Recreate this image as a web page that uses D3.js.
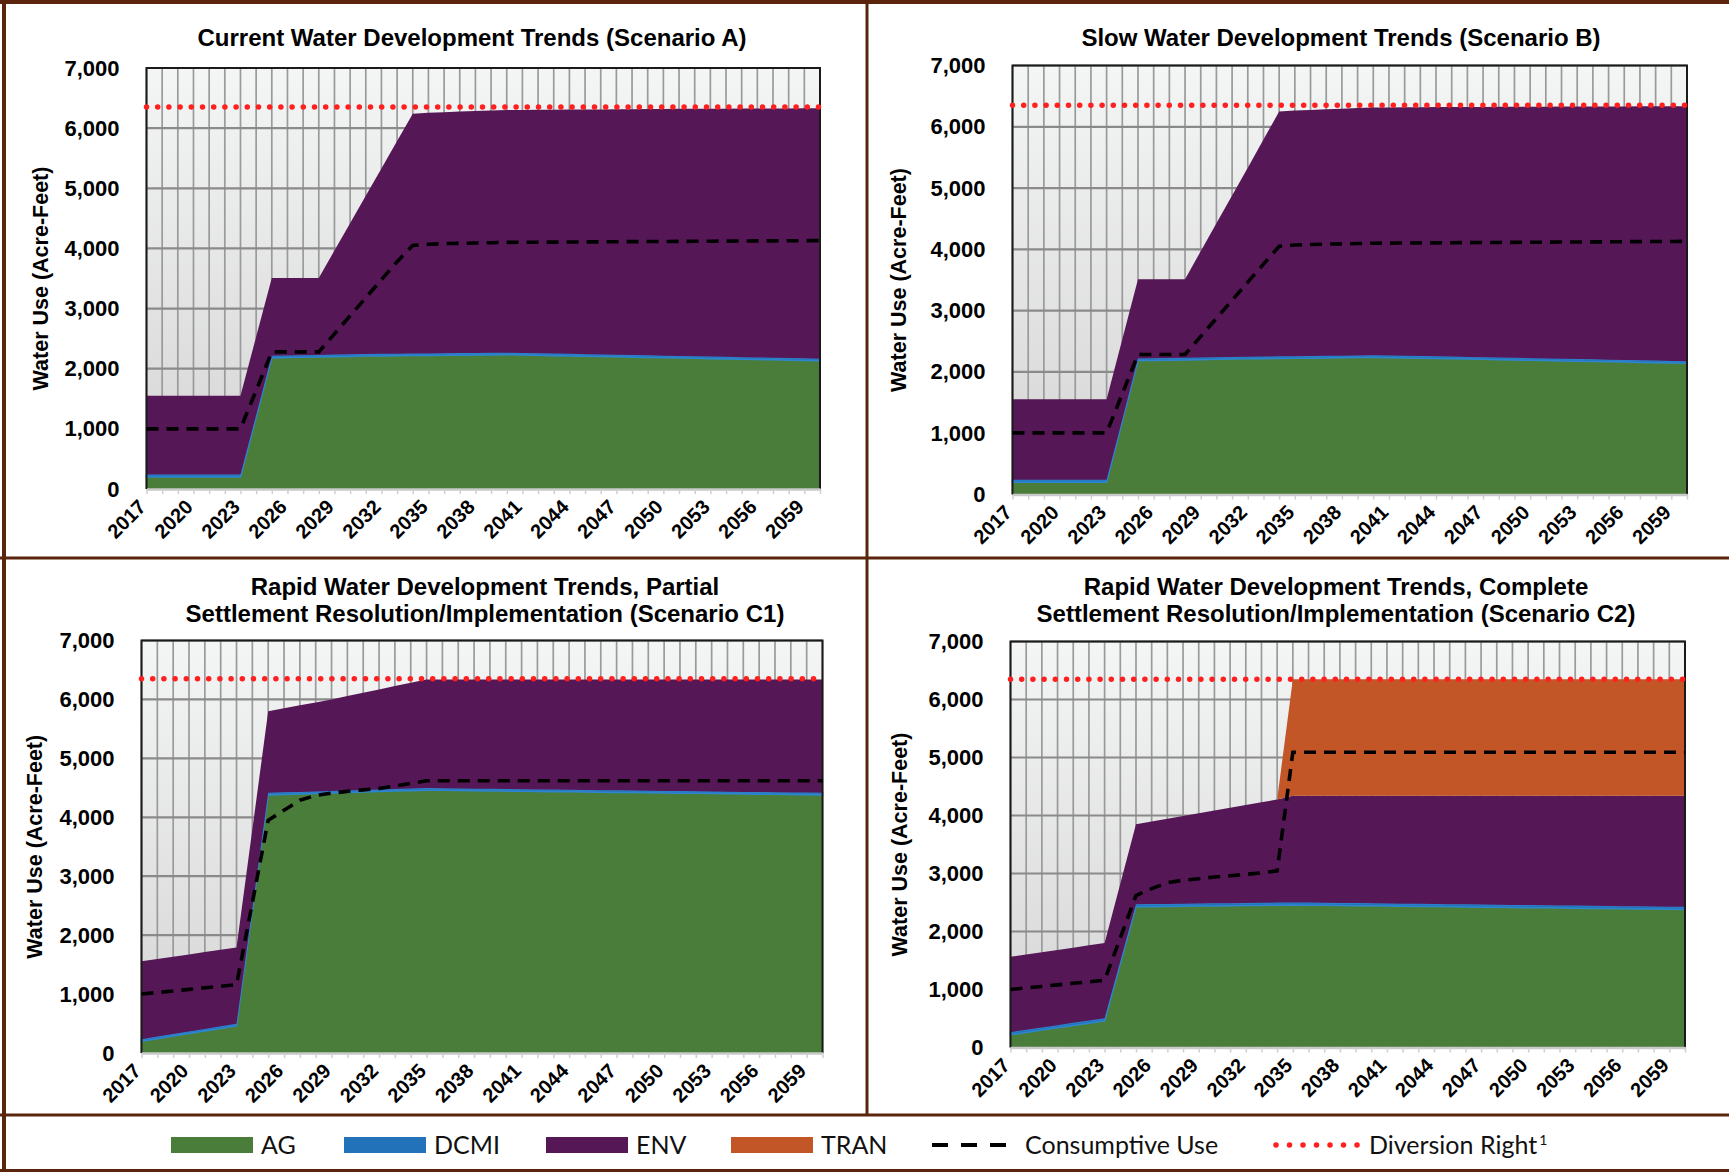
<!DOCTYPE html>
<meta charset="utf-8">
<script src="https://d3js.org/d3.v7.min.js"></script>
<style>
  body { margin: 0; background: #fff; }
  svg text { font-family: "Liberation Sans", Arial, sans-serif; }
</style>
<div id="chart"></div>
<script>
// categories (one per year) and the labelled years
var years = [2017,2018,2019,2020,2021,2022,2023,2024,2025,2026,2027,2028,2029,2030,2031,2032,2033,2034,2035,2036,2037,2038,
             2039,2040,2041,2042,2043,2044,2045,2046,2047,2048,2049,2050,2051,2052,2053,2054,2055,2056,2057,2058,2059,2060];
var tickYears = [2017,2020,2023,2026,2029,2032,2035,2038,2041,2044,2047,2050,2053,2056,2059];
var yTicks = [0,1000,2000,3000,4000,5000,6000,7000];

// Scenario A
var agA   = [200,200,200,200,200,200,200,1190,2180,2185,2190,2195,2200,2205,2210,2212,2215,2218,2220,2222,2225,2228,2230,2232,
             2227,2222,2217,2212,2207,2202,2197,2192,2187,2182,2177,2172,2167,2162,2157,2152,2147,2142,2137,2132];
var dcmiA = [40,40,40,40,40,40,40,35,35,35,35,35,35,35,35,35,35,35,35,35,35,35,35,35,
             35,35,35,35,35,35,35,35,35,35,35,35,35,35,35,35,35,35,35,35];
var envA  = [1310,1310,1310,1310,1310,1310,1310,1305,1295,1290,1285,1280,1730,2180,2630,3083,3535,3987,4000,4008,4015,4022,4030,4033,
             4040,4047,4054,4061,4068,4075,4082,4089,4096,4103,4109,4115,4121,4127,4133,4139,4145,4151,4157,4163];
var cuA   = [1000,1000,1000,1000,1000,1000,1000,1640,2280,2280,2280,2280,2580,2880,3180,3480,3780,4050,4070,4080,4085,4090,4095,4100,
             4102,4103,4105,4106,4108,4110,4111,4113,4114,4116,4117,4119,4120,4122,4123,4125,4126,4128,4129,4130];
var drA = 6350;

// Scenario B
var agB   = [200,200,200,200,200,200,200,1190,2185,2188,2192,2196,2200,2205,2210,2213,2216,2219,2222,2225,2228,2231,2234,2236,
             2232,2228,2224,2220,2215,2210,2205,2200,2195,2190,2185,2180,2175,2170,2165,2160,2155,2150,2145,2140];
var dcmiB = [40,40,40,40,40,40,40,35,35,35,35,35,35,35,35,35,35,35,35,35,35,35,35,35,
             35,35,35,35,35,35,35,35,35,35,35,35,35,35,35,35,35,35,35,35];
var envB  = [1315,1315,1315,1315,1315,1315,1315,1310,1292,1289,1285,1281,1735,2185,2635,3085,3540,3995,4008,4015,4022,4029,4036,4042,
             4048,4054,4060,4066,4072,4078,4084,4090,4096,4102,4108,4114,4120,4126,4132,4138,4144,4150,4156,4162];
var cuB   = [1005,1005,1005,1005,1005,1005,1005,1645,2285,2285,2285,2285,2580,2875,3170,3465,3760,4050,4070,4080,4085,4090,4095,4100,
             4102,4103,4105,4106,4108,4110,4111,4113,4114,4116,4117,4119,4120,4122,4123,4125,4126,4128,4129,4130];
var drB = 6350;

// Scenario C1
var agC1   = [200,243,287,330,373,417,460,2420,4380,4388,4396,4404,4412,4420,4428,4436,4444,4452,4460,
              4457,4454,4451,4448,4444,4441,4438,4435,4432,4428,4425,4422,4419,4416,4412,4409,4406,4403,4400,4396,4393,4390,4387,4384,4380];
var dcmiC1 = [35,35,35,35,35,35,35,35,35,35,35,35,35,35,35,35,35,35,35,35,35,35,35,35,
              35,35,35,35,35,35,35,35,35,35,35,35,35,35,35,35,35,35,35,35];
var envC1  = [1322,1318,1313,1308,1304,1299,1295,1340,1385,1427,1469,1511,1553,1602,1650,1699,1748,1796,1845,
              1848,1851,1854,1857,1861,1864,1867,1870,1873,1877,1880,1883,1886,1889,1893,1896,1899,1902,1905,1909,1912,1915,1918,1921,1925];
var cuC1   = [1000,1027,1053,1080,1107,1133,1160,2550,3950,4120,4290,4370,4410,4440,4465,4490,4530,4575,4620,
              4620,4620,4620,4620,4620,4620,4620,4620,4620,4620,4620,4620,4620,4620,4620,4620,4620,4620,4620,4620,4620,4620,4620,4620,4620];
var drC1 = 6350;

// Scenario C2
var agC2   = [220,260,300,340,380,420,460,1443,2425,2428,2431,2434,2438,2441,2444,2447,2450,2454,2457,
              2454,2451,2448,2445,2442,2439,2435,2432,2429,2426,2423,2420,2417,2414,2411,2408,2405,2402,2398,2395,2392,2389,2386,2383,2380];
var dcmiC2 = [45,45,45,45,45,45,45,45,45,45,45,45,45,45,45,45,45,45,45,45,45,45,45,45,
              45,45,45,45,45,45,45,45,45,45,45,45,45,45,45,45,45,45,45,45];
var envC2  = [1298,1298,1297,1297,1296,1296,1295,1336,1378,1423,1467,1512,1555,1600,1644,1689,1733,1777,1838,
              1841,1844,1847,1850,1853,1856,1860,1863,1866,1869,1872,1875,1878,1881,1884,1887,1890,1893,1897,1900,1903,1906,1909,1912,1915];
var tranC2 = [0,0,0,0,0,0,0,0,0,0,0,0,0,0,0,0,0,0,2010,
              2010,2010,2010,2010,2010,2010,2010,2010,2010,2010,2010,2010,2010,2010,2010,2010,2010,2010,2010,2010,2010,2010,2010,2010,2010];
var cuC2   = [1000,1027,1053,1080,1107,1133,1160,1890,2620,2740,2840,2885,2910,2940,2960,2985,3010,3045,5090,
              5090,5090,5090,5090,5090,5090,5090,5090,5090,5090,5090,5090,5090,5090,5090,5090,5090,5090,5090,5090,5090,5090,5090,5090,5090];
var drC2 = 6350;

var colors = {AG: "#4a7d3a", DCMI: "#2272ba", ENV: "#551756", TRAN: "#c25627"};

var panels = [
  {title: ["Current Water Development Trends (Scenario A)"], ag: agA, dcmi: dcmiA, env: envA, tran: null, cu: cuA, dr: drA,
   x0: 146.5, x1: 820, y0: 68, y1: 489, tx: 472, ty: 46, lx: 40},
  {title: ["Slow Water Development Trends (Scenario B)"], ag: agB, dcmi: dcmiB, env: envB, tran: null, cu: cuB, dr: drB,
   x0: 1012.5, x1: 1687, y0: 65.5, y1: 494.5, tx: 1341, ty: 46, lx: 898},
  {title: ["Rapid Water Development Trends, Partial", "Settlement Resolution/Implementation (Scenario C1)"],
   ag: agC1, dcmi: dcmiC1, env: envC1, tran: null, cu: cuC1, dr: drC1,
   x0: 141.5, x1: 822.5, y0: 640.5, y1: 1053, tx: 485, ty: 594.5, lx: 34},
  {title: ["Rapid Water Development Trends, Complete", "Settlement Resolution/Implementation (Scenario C2)"],
   ag: agC2, dcmi: dcmiC2, env: envC2, tran: tranC2, cu: cuC2, dr: drC2,
   x0: 1010.5, x1: 1685, y0: 641.5, y1: 1047.5, tx: 1336, ty: 594.5, lx: 899}
];

var W = 1729, H = 1172;
var svg = d3.select("#chart").append("svg").attr("width", W).attr("height", H);

var grad = svg.append("defs").append("linearGradient").attr("id", "bg")
  .attr("x1", 0).attr("y1", 0).attr("x2", 0).attr("y2", 1);
grad.append("stop").attr("offset", "0%").attr("stop-color", "#f4f5f5");
grad.append("stop").attr("offset", "100%").attr("stop-color", "#d4d4d4");

panels.forEach(function(p) {
  var x = d3.scalePoint().domain(years).range([p.x0, p.x1]);
  var y = d3.scaleLinear().domain([0, 7000]).range([p.y1, p.y0]);
  var g = svg.append("g");

  // plot background
  g.append("rect").attr("x", p.x0).attr("y", p.y0)
    .attr("width", p.x1 - p.x0).attr("height", p.y1 - p.y0).attr("fill", "url(#bg)");

  // gridlines
  g.selectAll(".vg").data(years).enter().append("line")
    .attr("x1", d => x(d)).attr("x2", d => x(d)).attr("y1", p.y0).attr("y2", p.y1)
    .attr("stroke", "#9a9a9a").attr("stroke-width", 1.7);
  g.selectAll(".hg").data(yTicks).enter().append("line")
    .attr("x1", p.x0).attr("x2", p.x1).attr("y1", d => y(d)).attr("y2", d => y(d))
    .attr("stroke", "#8a8a8a").attr("stroke-width", 2.2);

  // stacked areas
  var keys = ["AG", "DCMI", "ENV"];
  if (p.tran) keys.push("TRAN");
  var rows = years.map(function(yr, i) {
    return {year: yr, AG: p.ag[i], DCMI: p.dcmi[i], ENV: p.env[i], TRAN: p.tran ? p.tran[i] : 0};
  });
  var series = d3.stack().keys(keys)(rows);
  var area = d3.area().x(d => x(d.data.year)).y0(d => y(d[0])).y1(d => y(d[1]));
  g.selectAll(".layer").data(series).enter().append("path")
    .attr("d", area)
    .attr("fill", d => colors[d.key])
    .attr("stroke", d => d.key === "DCMI" ? "#2e86d0" : "none")
    .attr("stroke-width", 1.5);

  // plot frame
  g.append("path")
    .attr("d", "M" + p.x0 + "," + p.y1 + "V" + p.y0 + "H" + p.x1 + "V" + p.y1)
    .attr("fill", "none").attr("stroke", "#1a1a1a").attr("stroke-width", 2);

  // diversion right (red dots)
  var line = d3.line().x(d => x(d.year)).y(d => y(d.v));
  g.append("path")
    .attr("d", line(years.map(yr => ({year: yr, v: p.dr}))))
    .attr("fill", "none").attr("stroke", "#ff1f1f").attr("stroke-width", 5.5)
    .attr("stroke-linecap", "round").attr("stroke-dasharray", "0,11.2");

  // consumptive use (black dashes)
  g.append("path")
    .attr("d", line(years.map((yr, i) => ({year: yr, v: p.cu[i]}))))
    .attr("fill", "none").attr("stroke", "#000").attr("stroke-width", 3.6)
    .attr("stroke-dasharray", "12,8");

  // x axis
  var xa = g.append("g").attr("transform", "translate(0," + p.y1 + ")")
    .call(d3.axisBottom(x).tickValues(years).tickSize(5).tickSizeOuter(0)
      .tickFormat(d => tickYears.indexOf(d) >= 0 ? d : ""));
  xa.select(".domain").attr("stroke", "#c9c9c9").attr("stroke-width", 2.5);
  xa.selectAll(".tick line").attr("stroke", "#cfcfcf").attr("stroke-width", 1.5);
  xa.selectAll(".tick text")
    .attr("x", 0).attr("y", 0).attr("dy", "0.72em")
    .attr("transform", "translate(-10,9) rotate(-45)")
    .attr("text-anchor", "end")
    .style("font-size", "20px").style("font-weight", "bold").attr("fill", "#000");

  // y axis
  var ya = g.append("g").attr("transform", "translate(" + p.x0 + ",0)")
    .call(d3.axisLeft(y).tickValues(yTicks).tickSize(0).tickPadding(27).tickFormat(d3.format(",")));
  ya.select(".domain").remove();
  ya.selectAll(".tick text").style("font-size", "22px").style("font-weight", "bold").attr("fill", "#000");

  // y axis title
  g.append("text")
    .attr("transform", "translate(" + p.lx + "," + ((p.y0 + p.y1) / 2) + ") rotate(-90)")
    .attr("text-anchor", "middle").attr("dy", "0.36em")
    .style("font-size", "21.5px").style("font-weight", "bold")
    .text("Water Use (Acre-Feet)");

  // chart title
  p.title.forEach(function(t, i) {
    g.append("text").attr("x", p.tx).attr("y", p.ty + i * 27.5)
      .attr("text-anchor", "middle")
      .style("font-size", "24px").style("font-weight", "bold")
      .text(t);
  });
});

// panel frame
var brown = "#5a250c";
svg.append("line").attr("x1", 0).attr("x2", W).attr("y1", 2).attr("y2", 2).attr("stroke", brown).attr("stroke-width", 4);
svg.append("line").attr("x1", 4).attr("x2", 4).attr("y1", 0).attr("y2", H).attr("stroke", brown).attr("stroke-width", 4);
svg.append("line").attr("x1", 867).attr("x2", 867).attr("y1", 0).attr("y2", 1115).attr("stroke", brown).attr("stroke-width", 3);
svg.append("line").attr("x1", 0).attr("x2", W).attr("y1", 558).attr("y2", 558).attr("stroke", brown).attr("stroke-width", 3);
svg.append("line").attr("x1", 0).attr("x2", W).attr("y1", 1115).attr("y2", 1115).attr("stroke", brown).attr("stroke-width", 3);
svg.append("line").attr("x1", 0).attr("x2", W).attr("y1", 1170.5).attr("y2", 1170.5).attr("stroke", brown).attr("stroke-width", 3);

// legend
var legendItems = [
  {label: "AG", type: "box", color: colors.AG, x: 171},
  {label: "DCMI", type: "box", color: colors.DCMI, x: 344},
  {label: "ENV", type: "box", color: colors.ENV, x: 546},
  {label: "TRAN", type: "box", color: colors.TRAN, x: 731},
  {label: "Consumptive Use", type: "dash", x: 932},
  {label: "Diversion Right", type: "dot", x: 1273}
];
var ly = 1145;
var lg = svg.append("g");
legendItems.forEach(function(it) {
  var w = it.type === "dot" ? 88 : (it.type === "dash" ? 78 : 82);
  var gap = it.type === "dash" ? 15 : 8;
  if (it.type === "box") {
    lg.append("rect").attr("x", it.x).attr("y", ly - 8).attr("width", w).attr("height", 16).attr("fill", it.color);
  } else if (it.type === "dash") {
    lg.append("line").attr("x1", it.x).attr("x2", it.x + w).attr("y1", ly).attr("y2", ly)
      .attr("stroke", "#000").attr("stroke-width", 4).attr("stroke-dasharray", "16,13");
  } else {
    lg.append("line").attr("x1", it.x + 3).attr("x2", it.x + w).attr("y1", ly).attr("y2", ly)
      .attr("stroke", "#ff1f1f").attr("stroke-width", 5.5).attr("stroke-linecap", "round").attr("stroke-dasharray", "0,13.5");
  }
  var t = lg.append("text").attr("x", it.x + w + gap).attr("y", ly).attr("dy", "0.35em")
    .style("font-family", "Lato, 'Open Sans', sans-serif").style("font-size", "25px").attr("fill", "#111")
    .text(it.label);
  if (it.type === "dot") {
    t.append("tspan").attr("dy", "-0.6em").attr("dx", "2").style("font-size", "14px").text("1");
  }
});
</script>
